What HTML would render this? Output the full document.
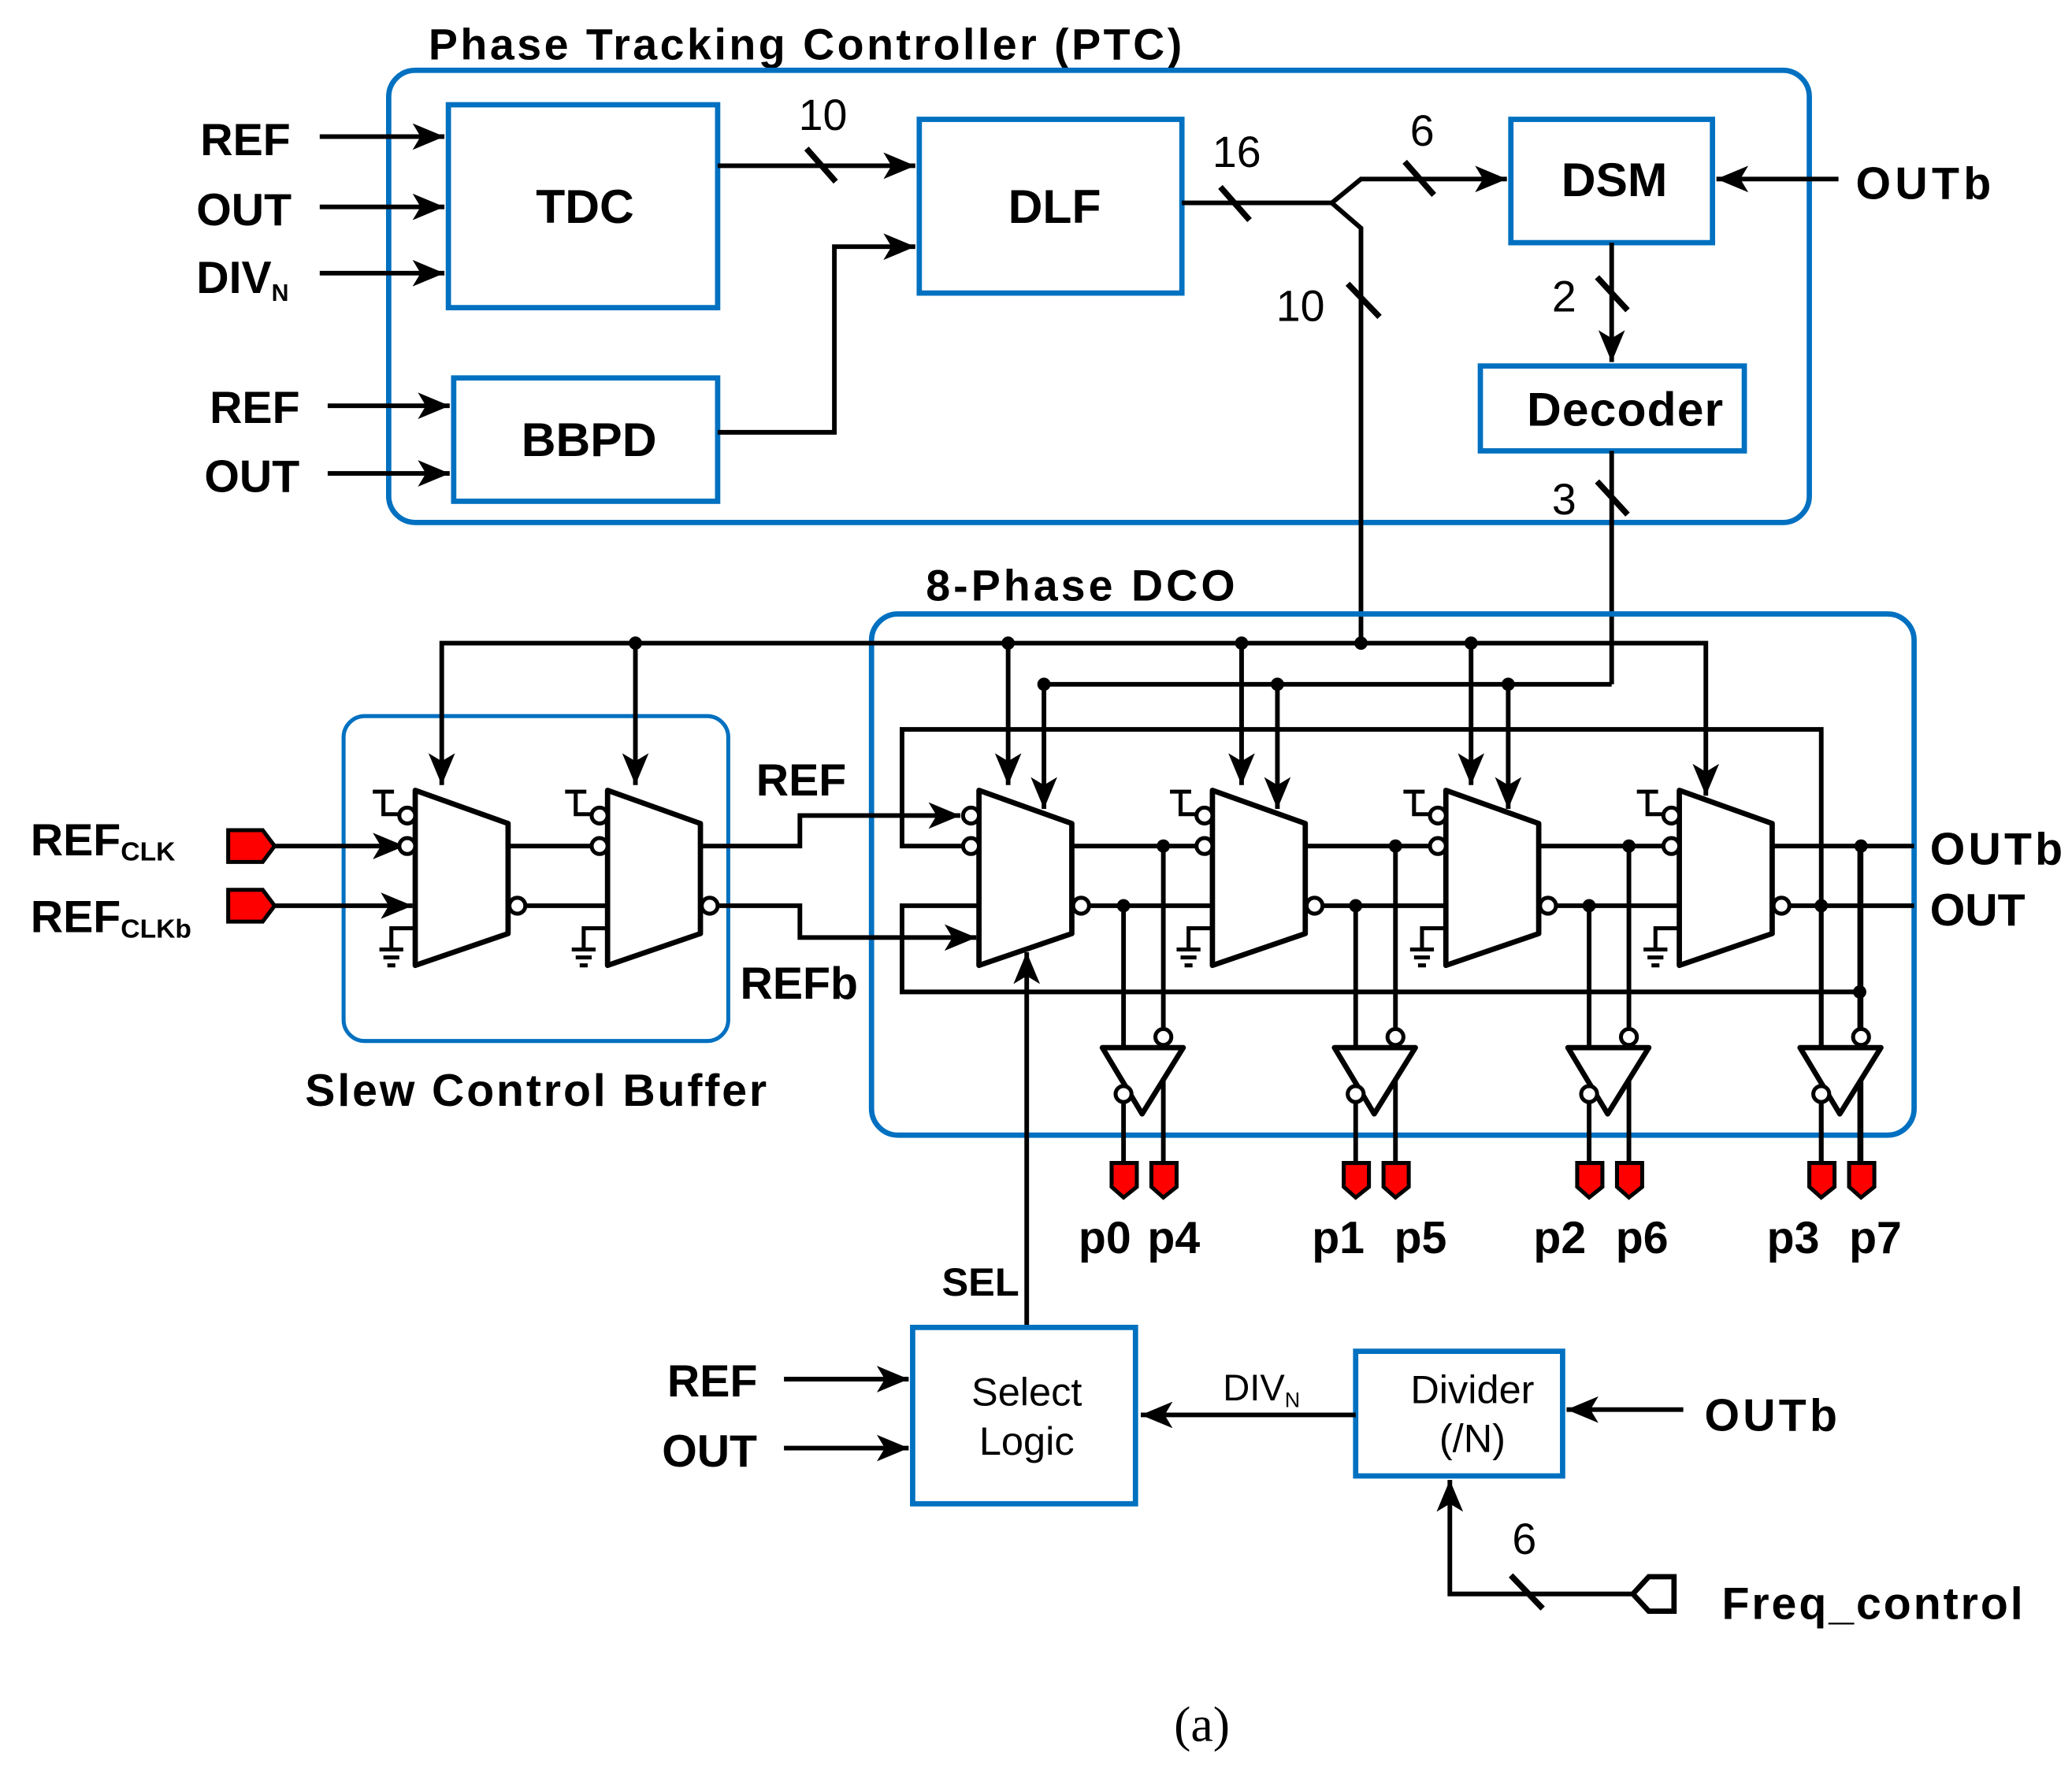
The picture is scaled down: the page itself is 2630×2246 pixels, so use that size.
<!DOCTYPE html>
<html><head><meta charset="utf-8"><style>
html,body{margin:0;padding:0;background:#fff;}
svg{display:block;}
text{font-family:"Liberation Sans",Arial,sans-serif;font-weight:bold;fill:#000;}
</style></head><body>
<svg width="2630" height="2246" viewBox="0 0 1560 1334" xmlns="http://www.w3.org/2000/svg">
<defs>
<marker id="a" markerUnits="userSpaceOnUse" markerWidth="26" markerHeight="20" refX="24" refY="10" orient="auto">
<path d="M0,0 L24,10 L0,20 L6,10 Z" fill="#000"/></marker>
<g id="mux">
<polygon points="0,596 70,621 70,704 0,728" fill="#fff" stroke="#000" stroke-width="4" stroke-linejoin="round"/>
<circle cx="-6" cy="638" r="6" fill="#fff" stroke="#000" stroke-width="3"/>
<circle cx="77" cy="683" r="6" fill="#fff" stroke="#000" stroke-width="3"/>
</g>
<g id="tie">
<circle cx="-6" cy="615" r="6" fill="#fff" stroke="#000" stroke-width="3"/>
<path d="M-32,597 H-16 M-24,597 V614 H-12 M0,700 H-18 V716 M-27,716 H-9 M-24,722 H-12 M-21,728 H-15" stroke="#000" stroke-width="3" fill="none"/>
</g>
<g id="buf">
<path d="M846,683 V878 M876,638 V878" stroke="#000" stroke-width="3.5"/>
<polygon points="830,790 891,790 860,840" fill="#fff" stroke="#000" stroke-width="4" stroke-linejoin="round"/>
<circle cx="876" cy="782" r="6" fill="#fff" stroke="#000" stroke-width="3"/>
<circle cx="846" cy="825" r="6" fill="#fff" stroke="#000" stroke-width="3"/>
<path d="M837,877 H856 V895 L846,903 L837,895 Z" fill="#f00" stroke="#000" stroke-width="3"/>
<path d="M867,877 H886 V895 L876,903 L867,895 Z" fill="#f00" stroke="#000" stroke-width="3"/>
<circle cx="846" cy="683" r="5" fill="#000"/>
<circle cx="876" cy="638" r="5" fill="#000"/>
</g>
</defs>

<!-- PTC -->
<text x="322" y="45" font-size="33" textLength="568" lengthAdjust="spacing">Phase Tracking Controller (PTC)</text>
<rect x="292" y="53" width="1071" height="341" rx="20" fill="none" stroke="#0070C0" stroke-width="4"/>
<g fill="none" stroke="#0070C0" stroke-width="4">
<rect x="337" y="79" width="203" height="153"/>
<rect x="692" y="90" width="198" height="131"/>
<rect x="1138" y="90" width="152" height="93"/>
<rect x="1115" y="276" width="199" height="64"/>
<rect x="341" y="285" width="199" height="93"/>
</g>
<g font-size="36">
<text x="440" y="168" text-anchor="middle">TDC</text>
<text x="794" y="168" text-anchor="middle">DLF</text>
<text x="1216" y="148" text-anchor="middle">DSM</text>
<text x="1150" y="321" textLength="148" lengthAdjust="spacing">Decoder</text>
<text x="443" y="344" text-anchor="middle">BBPD</text>
</g>
<g font-size="34">
<text x="150" y="117">REF</text>
<text x="147" y="170">OUT</text>
<text x="147" y="221">DIV<tspan font-size="18" dy="6">N</tspan></text>
<text x="157" y="319">REF</text>
<text x="153" y="371">OUT</text>
<text x="1398" y="150" textLength="102" lengthAdjust="spacing">OUTb</text>
</g>
<g stroke="#000" stroke-width="3.5" fill="none">
<path d="M240,103 H334" marker-end="url(#a)"/>
<path d="M240,156 H334" marker-end="url(#a)"/>
<path d="M240,206 H334" marker-end="url(#a)"/>
<path d="M246,306 H338" marker-end="url(#a)"/>
<path d="M246,357 H338" marker-end="url(#a)"/>
<path d="M540,125 H689" marker-end="url(#a)"/>
<path d="M540,326 H628 V186 H689" marker-end="url(#a)"/>
<path d="M890,153 H1003 L1025,135 H1135" marker-end="url(#a)"/>
<path d="M1003,153 L1025,172 V485"/>
<path d="M1385,135 H1293" marker-end="url(#a)"/>
<path d="M1214,183 V273" marker-end="url(#a)"/>
<path d="M1214,340 V516"/>
</g>
<g stroke="#000" stroke-width="4.5">
<path d="M607,112 L629,137 M919,141 L941,166 M1058,122 L1080,147 M1015,214 L1039,239 M1203,209 L1226,234 M1203,363 L1226,388 M1138,1188 L1162,1213"/>
</g>
<g font-size="33">
<text x="601" y="98" style="font-weight:normal">10</text>
<text x="913" y="126" style="font-weight:normal">16</text>
<text x="1062" y="110" style="font-weight:normal">6</text>
<text x="961" y="242" style="font-weight:normal">10</text>
<text x="1169" y="235" style="font-weight:normal">2</text>
<text x="1169" y="388" style="font-weight:normal">3</text>
<text x="1139" y="1172" style="font-weight:normal">6</text>
</g>

<!-- DCO box -->
<text x="697" y="453" font-size="33" textLength="233" lengthAdjust="spacing">8-Phase DCO</text>
<rect x="656" y="463" width="786" height="393" rx="20" fill="none" stroke="#0070C0" stroke-width="4"/>
<rect x="258" y="540" width="290" height="245" rx="16" fill="none" stroke="#0070C0" stroke-width="3"/>
<text x="229" y="834" font-size="34" textLength="348" lengthAdjust="spacing">Slew Control Buffer</text>

<!-- buses -->
<g stroke="#000" stroke-width="3.5" fill="none">
<path d="M1025,485 H332 V592" marker-end="url(#a)"/>
<path d="M478,485 V592" marker-end="url(#a)"/>
<path d="M1025,485 H1285 V600" marker-end="url(#a)"/>
<path d="M759,485 V592" marker-end="url(#a)"/>
<path d="M935,485 V592" marker-end="url(#a)"/>
<path d="M1108,485 V592" marker-end="url(#a)"/>
<path d="M1214,516 H786 V610" marker-end="url(#a)"/>
<path d="M962,516 V610" marker-end="url(#a)"/>
<path d="M1136,516 V610" marker-end="url(#a)"/>
<path d="M725,638 H679 V550 H1372 V878"/>
<path d="M737,683 H679 V748 H1401"/>
<path d="M1335,638 H1442 M1342,683 H1442"/>
<path d="M1401,638 V878"/>
<path d="M807,638 H907 M814,683 H913"/>
<path d="M983,638 H1083 M990,683 H1089"/>
<path d="M1159,638 H1259 M1166,683 H1265"/>
<path d="M205,638 H304" marker-end="url(#a)"/>
<path d="M205,683 H310" marker-end="url(#a)"/>
<path d="M382,638 H451 M389,683 H457"/>
<path d="M527,638 H602 V615 H723" marker-end="url(#a)"/>
<path d="M534,683 H602 V707 H735" marker-end="url(#a)"/>
<path d="M773,1001 V718" marker-end="url(#a)"/>
</g>
<g fill="#000">
<circle cx="478" cy="485" r="5"/><circle cx="759" cy="485" r="5"/><circle cx="935" cy="485" r="5"/>
<circle cx="1025" cy="485" r="5"/><circle cx="1108" cy="485" r="5"/>
<circle cx="786" cy="516" r="5"/><circle cx="962" cy="516" r="5"/><circle cx="1136" cy="516" r="5"/>
<circle cx="1401" cy="748" r="5"/>
</g>

<use href="#mux" x="312"/><use href="#tie" x="312"/>
<use href="#mux" x="457"/><use href="#tie" x="457"/>
<use href="#mux" x="737"/>
<circle cx="731" cy="615" r="6" fill="#fff" stroke="#000" stroke-width="3"/>
<use href="#mux" x="913"/><use href="#tie" x="913"/>
<use href="#mux" x="1089"/><use href="#tie" x="1089"/>
<use href="#mux" x="1265"/><use href="#tie" x="1265"/>

<use href="#buf" x="0"/>
<use href="#buf" x="175"/>
<use href="#buf" x="351"/>
<use href="#buf" x="526"/>

<path d="M171,626 H197 L206,638 L197,650 H171 Z" fill="#f00" stroke="#000" stroke-width="3"/>
<path d="M171,671 H197 L206,683 L197,695 H171 Z" fill="#f00" stroke="#000" stroke-width="3"/>

<g font-size="34">
<text x="22" y="645">REF<tspan font-size="20" dy="4">CLK</tspan></text>
<text x="22" y="703">REF<tspan font-size="20" dy="4">CLKb</tspan></text>
<text x="569" y="600">REF</text>
<text x="557" y="753">REFb</text>
<text x="1454" y="652" textLength="100" lengthAdjust="spacing">OUTb</text>
<text x="1454" y="698">OUT</text>
<text x="812" y="945">p0</text><text x="864" y="945">p4</text>
<text x="988" y="945">p1</text><text x="1050" y="945">p5</text>
<text x="1155" y="945">p2</text><text x="1217" y="945">p6</text>
<text x="1331" y="945">p3</text><text x="1393" y="945">p7</text>
<text x="709" y="977" font-size="30">SEL</text>
<text x="502" y="1053">REF</text>
<text x="498" y="1106">OUT</text>
<text x="1284" y="1079" textLength="100" lengthAdjust="spacing">OUTb</text>
<text x="1297" y="1221" textLength="227" lengthAdjust="spacing">Freq_control</text>
</g>

<rect x="687" y="1001" width="168" height="133" fill="none" stroke="#0070C0" stroke-width="4"/>
<rect x="1021" y="1019" width="156" height="94" fill="none" stroke="#0070C0" stroke-width="4"/>
<g font-size="30" text-anchor="middle">
<text x="773" y="1060" style="font-weight:normal">Select</text>
<text x="773" y="1097" style="font-weight:normal">Logic</text>
<text x="1109" y="1058" style="font-weight:normal">Divider</text>
<text x="1109" y="1095" style="font-weight:normal">(/N)</text>
<text x="950" y="1056" font-size="28" style="font-weight:normal">DIV<tspan font-size="16" dy="5">N</tspan></text>
</g>
<g stroke="#000" stroke-width="3.5" fill="none">
<path d="M590,1040 H684" marker-end="url(#a)"/>
<path d="M590,1092 H684" marker-end="url(#a)"/>
<path d="M1021,1067 H859" marker-end="url(#a)"/>
<path d="M1268,1063 H1180" marker-end="url(#a)"/>
<path d="M1230,1202 H1092 V1116" marker-end="url(#a)"/>
</g>
<path d="M1230,1202 L1242,1189 H1261 V1215 H1242 Z" fill="#fff" stroke="#000" stroke-width="4"/>

<text x="884" y="1313" font-size="38" style="font-family:'Liberation Serif',serif;font-weight:normal">(a)</text>
</svg>
</body></html>
